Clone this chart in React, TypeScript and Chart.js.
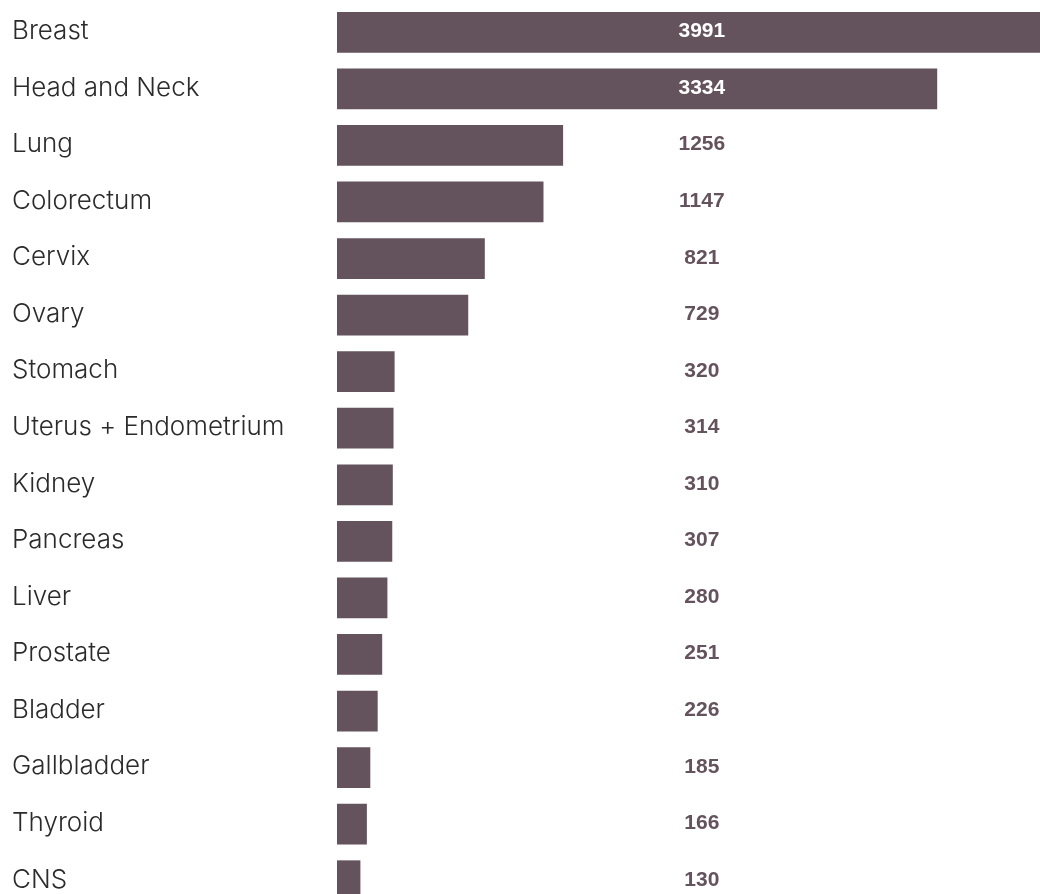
import React, { useEffect, useRef } from "react";
import { Chart, registerables } from "chart.js";

Chart.register(...registerables);

const categories: string[] = [
  "Breast",
  "Head and Neck",
  "Lung",
  "Colorectum",
  "Cervix",
  "Ovary",
  "Stomach",
  "Uterus + Endometrium",
  "Kidney",
  "Pancreas",
  "Liver",
  "Prostate",
  "Bladder",
  "Gallbladder",
  "Thyroid",
  "CNS",
];

const cases: number[] = [3991, 3334, 1256, 1147, 821, 729, 320, 314, 310, 307, 280, 251, 226, 185, 166, 130];

const X_MAX = 3905;
const BAR_COLOR = "#64525d";
const LABEL_COLOR = "#2b2b2b";

const valueLabelPlugin = {
  id: "valueLabels",
  afterDatasetsDraw(chart: any) {
    const { ctx, chartArea } = chart;
    const meta = chart.getDatasetMeta(0);
    const lx = chartArea.left + (chartArea.right - chartArea.left) * 0.519;
    ctx.save();
    ctx.font = "bold 21px 'Liberation Sans', Arial, sans-serif";
    ctx.textAlign = "center";
    ctx.textBaseline = "alphabetic";
    meta.data.forEach((bar: any, i: number) => {
      const covered = bar.x > lx + 30;
      ctx.fillStyle = covered ? "#ffffff" : BAR_COLOR;
      ctx.fillText(String(cases[i]), lx, bar.y + 5);
    });
    ctx.restore();
  },
};

export default function App() {
  const ref = useRef<HTMLCanvasElement | null>(null);

  useEffect(() => {
    if (!ref.current) return;
    const chart = new Chart(ref.current, {
      type: "bar",
      data: {
        labels: categories,
        datasets: [
          {
            data: cases,
            backgroundColor: BAR_COLOR,
            borderWidth: 0,
            categoryPercentage: 0.8,
            barPercentage: 0.9,
          },
        ],
      },
      options: {
        indexAxis: "y",
        responsive: false,
        animation: false,
        layout: { padding: { left: 12, top: 4, bottom: 4, right: 0 } },
        plugins: {
          legend: { display: false },
          tooltip: { enabled: false },
        },
        scales: {
          x: {
            display: false,
            min: 0,
            max: X_MAX,
          },
          y: {
            grid: { display: false },
            border: { display: false },
            ticks: {
              autoSkip: false,
              crossAlign: "far",
              color: LABEL_COLOR,
              font: { family: "Inter, 'Liberation Sans', sans-serif", size: 26, weight: "300", lineHeight: "2px" },
              callback: (_v: any, i: number) => [categories[i], ""],
            },
            afterFit: (scale: any) => {
              scale.width = 325;
              scale.paddingTop = 0;
              scale.paddingBottom = 0;
            },
          },
        },
      },
      plugins: [valueLabelPlugin],
    });
    return () => chart.destroy();
  }, []);

  return (
    <div
      style={{
        position: "fixed",
        top: 0,
        left: 0,
        width: 1040,
        height: 894,
        overflow: "hidden",
        background: "#fff",
      }}
    >
      <canvas ref={ref} width={1040} height={913} style={{ display: "block" }} />
    </div>
  );
}
